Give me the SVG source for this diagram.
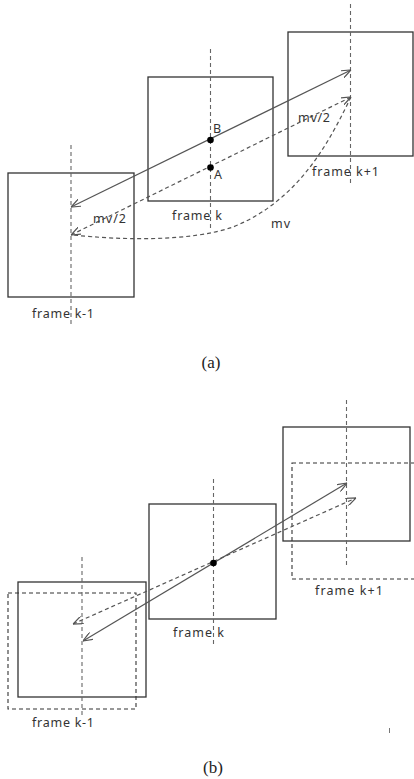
<svg xmlns="http://www.w3.org/2000/svg" width="414" height="779" viewBox="0 0 414 779">
  <style>
    .frame { fill: none; stroke: #333; stroke-width: 1.3; }
    .frame-d { fill: none; stroke: #333; stroke-width: 1.1; stroke-dasharray: 4 3; }
    .axis { fill: none; stroke: #666; stroke-width: 1.1; stroke-dasharray: 4 3; }
    .mv { fill: none; stroke: #555; stroke-width: 1.2; }
    .mv-d { fill: none; stroke: #555; stroke-width: 1.2; stroke-dasharray: 4 3; }
    .lbl { font-family: "Noto Sans", "DejaVu Sans", sans-serif; font-size: 12.5px; fill: #333; }
    .cap { font-family: "Liberation Serif", serif; font-size: 17px; fill: #222; text-anchor: middle; }
  </style>
  <defs>
    <marker id="arrow" viewBox="0 0 10 8" refX="10" refY="4" markerWidth="10" markerHeight="8" markerUnits="userSpaceOnUse" orient="auto-start-reverse">
      <path d="M0,0 L10,4 L0,8" fill="none" stroke="#555" stroke-width="1.2" stroke-dasharray="none"/>
    </marker>
  </defs>

  <!-- (a) -->
  <g id="a-frame-k-1">
    <rect class="frame" x="8" y="173" width="126" height="124"/>
    <line class="axis" x1="71" y1="145" x2="71" y2="326"/>
    <text class="lbl" x="32" y="318" textLength="62">frame k-1</text>
  </g>
  <g id="a-frame-k">
    <rect class="frame" x="148" y="77" width="125" height="124"/>
    <line class="axis" x1="210.5" y1="49" x2="210.5" y2="230" stroke="#333"/>
    <text class="lbl" x="172" y="220" textLength="50">frame k</text>
  </g>
  <g id="a-frame-k1">
    <rect class="frame" x="288" y="32" width="125" height="124"/>
    <line class="axis" x1="350.5" y1="4" x2="350.5" y2="184"/>
    <text class="lbl" x="312" y="176" textLength="67">frame k+1</text>
  </g>
  <g id="a-connectors">
    <line class="mv" x1="71" y1="207" x2="351" y2="70" marker-start="url(#arrow)" marker-end="url(#arrow)"/>
    <line class="mv-d" x1="71" y1="235" x2="351" y2="97" marker-start="url(#arrow)" marker-end="url(#arrow)"/>
    <path class="mv-d" d="M351,97 C330,140 300,200 233,227 C190,242 120,240 73,235"/>
  </g>
  <g id="a-points">
    <circle cx="210.5" cy="140" r="3.3" fill="#000"/>
    <circle cx="210.5" cy="167.5" r="3.3" fill="#000"/>
    <text class="lbl" x="213" y="133">B</text>
    <text class="lbl" x="214" y="179">A</text>
    <text class="lbl" x="298" y="122" textLength="32">mv/2</text>
    <text class="lbl" x="93" y="223" textLength="33">mv/2</text>
    <text class="lbl" x="271" y="228" textLength="19">mv</text>
  </g>
  <text class="cap" x="211" y="368">(a)</text>

  <!-- (b) -->
  <g id="b-frame-k-1">
    <rect class="frame" x="18" y="582" width="128" height="115"/>
    <rect class="frame-d" x="8" y="593" width="128" height="116"/>
    <line class="axis" x1="82" y1="557" x2="82" y2="718"/>
    <text class="lbl" x="32" y="727" textLength="62">frame k-1</text>
  </g>
  <g id="b-frame-k">
    <rect class="frame" x="149" y="504" width="127" height="115"/>
    <line class="axis" x1="213.5" y1="479" x2="213.5" y2="645"/>
    <text class="lbl" x="173" y="637" textLength="51">frame k</text>
  </g>
  <g id="b-frame-k1">
    <rect class="frame" x="283" y="427" width="127" height="114"/>
    <rect class="frame-d" x="292" y="463" width="126" height="116"/>
    <line class="axis" x1="346.5" y1="400" x2="346.5" y2="567"/>
    <text class="lbl" x="315" y="595" textLength="68">frame k+1</text>
  </g>
  <g id="b-connectors">
    <line class="mv" x1="83" y1="641" x2="347" y2="483" marker-start="url(#arrow)" marker-end="url(#arrow)"/>
    <line class="mv-d" x1="73" y1="624" x2="356" y2="498" marker-start="url(#arrow)" marker-end="url(#arrow)"/>
    <circle cx="213.5" cy="563" r="3.3" fill="#000"/>
  </g>
  <line x1="389.5" y1="728" x2="389.5" y2="733" stroke="#777" stroke-width="1"/>
  <text class="cap" x="213" y="773">(b)</text>
</svg>
